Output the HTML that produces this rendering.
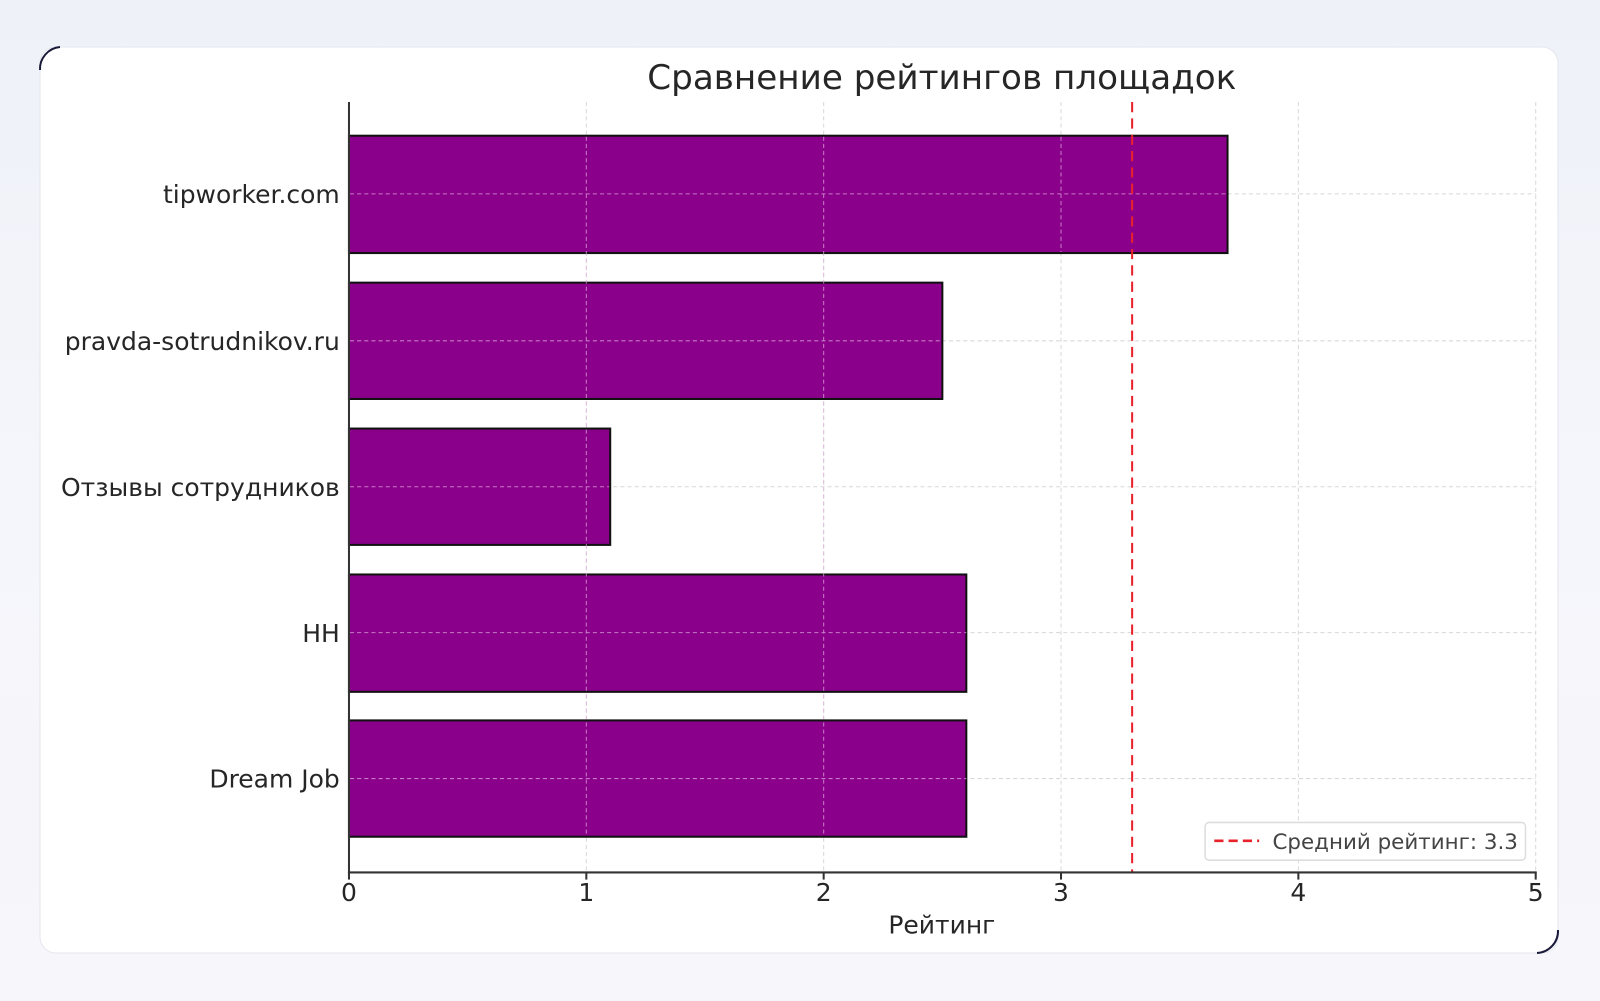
<!DOCTYPE html>
<html><head><meta charset="utf-8"><style>
html,body{margin:0;padding:0;width:1600px;height:1001px;overflow:hidden;background:linear-gradient(180deg,#eef1f8 0%,#f5f6fb 50%,#f7f6fa 100%);}
svg{position:absolute;left:0;top:0}
text{font-family:"DejaVu Sans","Liberation Sans",sans-serif;fill:#262626}
</style></head><body>
<svg width="1600" height="1001" viewBox="0 0 1600 1001">
<rect x="40" y="47" width="1518" height="906" rx="16" fill="#fff" stroke="#e4e6ee" stroke-width="1"/>
<path d="M40 70 A22 22 0 0 1 60 47" fill="none" stroke="#1a1a3a" stroke-width="2"/>
<path d="M1558 930 A22 22 0 0 1 1537 953" fill="none" stroke="#1a1a3a" stroke-width="2"/>
<g transform="scale(1.0204)">
<text x="923" y="87" font-size="33.5" text-anchor="middle">Сравнение рейтингов площадок</text>
<g stroke="#d8d8d8" stroke-width="1" stroke-dasharray="4,3">
<line x1="574.6" y1="100" x2="574.6" y2="855"/>
<line x1="807.2" y1="100" x2="807.2" y2="855"/>
<line x1="1039.8" y1="100" x2="1039.8" y2="855"/>
<line x1="1272.4" y1="100" x2="1272.4" y2="855"/>
<line x1="1505" y1="100" x2="1505" y2="855"/>
<line x1="342" y1="190" x2="1505" y2="190"/>
<line x1="342" y1="334" x2="1505" y2="334"/>
<line x1="342" y1="477" x2="1505" y2="477"/>
<line x1="342" y1="620" x2="1505" y2="620"/>
<line x1="342" y1="763" x2="1505" y2="763"/>
</g>
<g fill="#8b008b" stroke="#111" stroke-width="2">
<rect x="342" y="133" width="861" height="115"/>
<rect x="342" y="277" width="581.5" height="114"/>
<rect x="342" y="420" width="256" height="114"/>
<rect x="342" y="563" width="605" height="115"/>
<rect x="342" y="706" width="605" height="114"/>
</g>
<g stroke="#e0b0e0" stroke-width="1" stroke-dasharray="4,3" opacity="0.7">
<line x1="343" y1="190" x2="1203" y2="190"/>
<line x1="343" y1="334" x2="923" y2="334"/>
<line x1="343" y1="477" x2="597" y2="477"/>
<line x1="343" y1="620" x2="947" y2="620"/>
<line x1="343" y1="763" x2="947" y2="763"/>
<line x1="574.6" y1="134" x2="574.6" y2="819"/>
<line x1="807.2" y1="134" x2="807.2" y2="819"/>
<line x1="1039.8" y1="134" x2="1039.8" y2="247"/>
</g>
<line x1="1109.5" y1="100" x2="1109.5" y2="855" stroke="#e8212b" stroke-width="2" stroke-dasharray="10,6"/>
<line x1="342" y1="100" x2="342" y2="856" stroke="#333" stroke-width="2"/>
<line x1="341" y1="855" x2="1506" y2="855" stroke="#333" stroke-width="2"/>
<g stroke="#333" stroke-width="2">
<line x1="342" y1="855" x2="342" y2="862"/><line x1="574.6" y1="855" x2="574.6" y2="862"/><line x1="807.2" y1="855" x2="807.2" y2="862"/><line x1="1039.8" y1="855" x2="1039.8" y2="862"/><line x1="1272.4" y1="855" x2="1272.4" y2="862"/><line x1="1505" y1="855" x2="1505" y2="862"/>
</g>
<g font-size="24.5" text-anchor="middle">
<text x="342" y="883">0</text><text x="574.6" y="883">1</text><text x="807.2" y="883">2</text><text x="1039.8" y="883">3</text><text x="1272.4" y="883">4</text><text x="1505" y="883">5</text>
</g>
<text x="923" y="915" font-size="24.5" text-anchor="middle">Рейтинг</text>
<g font-size="24.5" text-anchor="end">
<text x="333" y="199">tipworker.com</text>
<text x="333" y="343">pravda-sotrudnikov.ru</text>
<text x="333" y="486">Отзывы сотрудников</text>
<text x="333" y="629">HH</text>
<text x="333" y="772">Dream Job</text>
</g>
<rect x="1181" y="806" width="314" height="37" rx="4" fill="#fff" stroke="#ddd" stroke-width="1.5"/>
<line x1="1190" y1="824" x2="1234" y2="824" stroke="#e8212b" stroke-width="2.5" stroke-dasharray="9,5"/>
<text x="1247" y="832" font-size="21" style="fill:#444">Средний рейтинг: 3.3</text>
</g>
</svg>
</body></html>
